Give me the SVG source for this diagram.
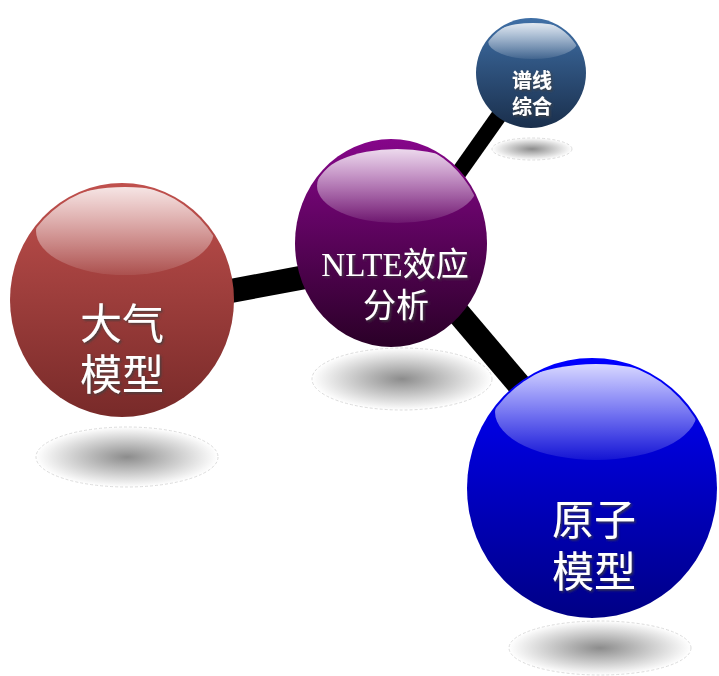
<svg xmlns="http://www.w3.org/2000/svg" width="719" height="676" viewBox="0 0 719 676">
<defs>
<linearGradient id="gRed" x1="0" y1="0" x2="0" y2="1"><stop offset="0" stop-color="#c0504d"/><stop offset="1" stop-color="#782a29"/></linearGradient>
<linearGradient id="gPurple" x1="0" y1="0" x2="0" y2="1"><stop offset="0" stop-color="#86068a"/><stop offset="1" stop-color="#2a0027"/></linearGradient>
<linearGradient id="gBlue" x1="0" y1="0" x2="0" y2="1"><stop offset="0" stop-color="#0000ff"/><stop offset="1" stop-color="#000085"/></linearGradient>
<linearGradient id="gNavy" x1="0" y1="0" x2="0" y2="1"><stop offset="0" stop-color="#3f6fa6"/><stop offset="1" stop-color="#1a2f4c"/></linearGradient>
<linearGradient id="gHi" x1="0" y1="0" x2="0" y2="1"><stop offset="0" stop-color="#fff" stop-opacity="0.85"/><stop offset="1" stop-color="#fff" stop-opacity="0.08"/></linearGradient>
<radialGradient id="gShadow" cx="0.5" cy="0.5" r="0.5"><stop offset="0" stop-color="#8c8c8c"/><stop offset="1" stop-color="#fff"/></radialGradient>
<filter id="emboss" x="-10%" y="-10%" width="130%" height="130%"><feDropShadow dx="1.5" dy="1.5" stdDeviation="0.8" flood-color="#404040" flood-opacity="0.9"/></filter>
<clipPath id="cRed"><ellipse cx="122" cy="300" rx="110" ry="115"/></clipPath>
<clipPath id="cPurple"><ellipse cx="391" cy="243" rx="94" ry="102"/></clipPath>
<clipPath id="cNavy"><ellipse cx="531" cy="73" rx="53" ry="53"/></clipPath>
<clipPath id="cBlue"><ellipse cx="592" cy="488" rx="123" ry="128"/></clipPath>
</defs>
<style>
.shadow{fill:url(#gShadow);stroke:#dcdcdc;stroke-width:1;stroke-dasharray:3 2}
.hi{fill:url(#gHi)}
.bar{stroke:#000;stroke-linecap:butt;fill:none}
.lbl{fill:#fff;font-family:"Noto Sans CJK SC","Liberation Sans",sans-serif;text-anchor:middle;filter:url(#emboss)}
.serif{font-family:"Liberation Serif","Noto Sans CJK SC",serif}
</style>
<g id="connectors">
<line class="bar" x1="200" y1="296.7" x2="330" y2="272.4" stroke-width="24"/>
<line class="bar" x1="515" y1="93" x2="455" y2="178" stroke-width="16"/>
<line class="bar" x1="420" y1="268" x2="560" y2="433" stroke-width="24"/>
</g>
<g id="node-atmosphere">
<ellipse class="shadow" cx="127" cy="457" rx="91" ry="30"/>
<ellipse cx="122" cy="300" rx="112" ry="117" fill="url(#gRed)"/>
<ellipse class="hi" cx="125" cy="231" rx="89" ry="44" clip-path="url(#cRed)"/>
<text class="lbl" font-size="42"><tspan x="122" y="339">大气</tspan><tspan x="122" y="390">模型</tspan></text>
</g>
<g id="node-nlte">
<ellipse class="shadow" cx="402" cy="379" rx="90" ry="31"/>
<ellipse cx="391" cy="243" rx="96" ry="104" fill="url(#gPurple)"/>
<ellipse class="hi" cx="397" cy="186" rx="80" ry="37" clip-path="url(#cPurple)"/>
<text class="lbl serif" font-size="33"><tspan x="395" y="276">NLTE效应</tspan><tspan x="396" y="317">分析</tspan></text>
</g>
<g id="node-spectral">
<ellipse class="shadow" cx="532" cy="149" rx="40" ry="11"/>
<ellipse cx="531" cy="73" rx="55" ry="55" fill="url(#gNavy)"/>
<ellipse class="hi" cx="533" cy="41" rx="45" ry="18" clip-path="url(#cNavy)"/>
<text class="lbl" font-size="20" font-weight="bold"><tspan x="532" y="88">谱线</tspan><tspan x="532" y="114">综合</tspan></text>
</g>
<g id="node-atomic">
<ellipse class="shadow" cx="600" cy="648" rx="91" ry="27"/>
<ellipse cx="592" cy="488" rx="125" ry="130" fill="url(#gBlue)"/>
<ellipse class="hi" cx="596" cy="412" rx="101" ry="48" clip-path="url(#cBlue)"/>
<text class="lbl" font-size="42"><tspan x="594" y="535">原子</tspan><tspan x="594" y="587">模型</tspan></text>
</g>
</svg>
